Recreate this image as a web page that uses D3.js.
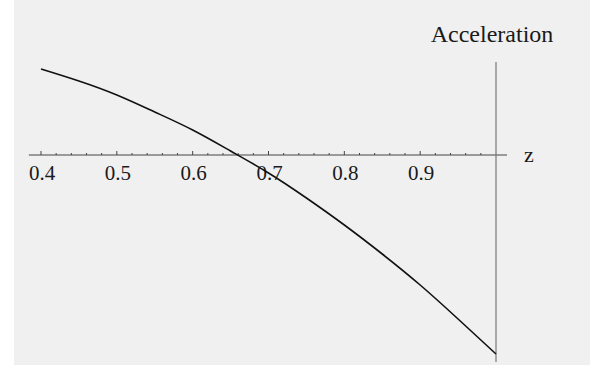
<!DOCTYPE html>
<html>
<head>
<meta charset="utf-8">
<script src="https://cdn.jsdelivr.net/npm/d3@7/dist/d3.min.js"></script>
<style>
  html, body { margin: 0; padding: 0; background: #ffffff; }
  svg { display: block; }
</style>
</head>
<body>
<svg id="chart" width="590" height="365"></svg>
<script>
// Data (arbitrary acceleration units)
const zValues   = [0.40, 0.45, 0.50, 0.55, 0.60, 0.65, 0.70, 0.75, 0.80, 0.85, 0.90, 0.95, 1.00];
const accel     = [0.86, 0.74, 0.60, 0.43, 0.25, 0.04, -0.18, -0.43, -0.70, -0.99, -1.30, -1.64, -1.99];
const majorTicks = [0.4, 0.5, 0.6, 0.7, 0.8, 0.9];
const tickLabels = ["0.4", "0.5", "0.6", "0.7", "0.8", "0.9"];
const xAxisTitle = "z";
const yAxisTitle = "Acceleration";

const svg = d3.select("#chart");
const W = 590, H = 365;

// background
svg.append("rect").attr("x", 14).attr("y", 0).attr("width", W - 14).attr("height", H).attr("fill", "#f0f0f0");

const x = d3.scaleLinear().domain([0.4, 1.0]).range([41, 496]);
const y = d3.scaleLinear().domain([-2.07, 0.93]).range([362, 62]);

const serif = "'Liberation Serif', 'Times New Roman', serif";

// x axis line
const y0 = y(0);
svg.append("line")
  .attr("x1", x(0.384)).attr("x2", x(1.0145))
  .attr("y1", y0).attr("y2", y0)
  .attr("stroke", "#444").attr("stroke-width", 1);

// minor ticks every 0.02
const minor = d3.range(0, 31).map(i => 0.4 + i * 0.02).filter(v => !majorTicks.some(m => Math.abs(m - v) < 1e-6) && v < 0.999);
svg.append("g").selectAll("line").data(minor).join("line")
  .attr("x1", d => x(d)).attr("x2", d => x(d))
  .attr("y1", y0).attr("y2", y0 - 2)
  .attr("stroke", "#444").attr("stroke-width", 1);

// major ticks
svg.append("g").selectAll("line").data(majorTicks).join("line")
  .attr("x1", d => x(d)).attr("x2", d => x(d))
  .attr("y1", y0).attr("y2", y0 - 4)
  .attr("stroke", "#444").attr("stroke-width", 1);

// tick labels
svg.append("g").selectAll("text").data(majorTicks).join("text")
  .attr("x", d => x(d) + 1).attr("y", y0 + 25)
  .attr("text-anchor", "middle")
  .attr("font-family", serif).attr("font-size", 21)
  .attr("fill", "#1a1a1a")
  .text((d, i) => tickLabels[i]);

// z label
svg.append("text")
  .attr("x", 529).attr("y", y0 + 7)
  .attr("text-anchor", "middle")
  .attr("font-family", serif).attr("font-size", 22)
  .attr("fill", "#1a1a1a")
  .text(xAxisTitle);

// vertical axis at z = 1
svg.append("line")
  .attr("x1", x(1.0)).attr("x2", x(1.0))
  .attr("y1", y(0.93)).attr("y2", y(-2.07))
  .attr("stroke", "#777").attr("stroke-width", 1.2);

// Acceleration label
svg.append("text")
  .attr("x", 492).attr("y", 42)
  .attr("text-anchor", "middle")
  .attr("font-family", serif).attr("font-size", 24)
  .attr("fill", "#1a1a1a")
  .text(yAxisTitle);

// curve
const line = d3.line().x((d, i) => x(zValues[i])).y(d => y(d)).curve(d3.curveNatural);
svg.append("path")
  .datum(accel)
  .attr("d", line)
  .attr("fill", "none")
  .attr("stroke", "#111")
  .attr("stroke-width", 1.6);
</script>
</body>
</html>
